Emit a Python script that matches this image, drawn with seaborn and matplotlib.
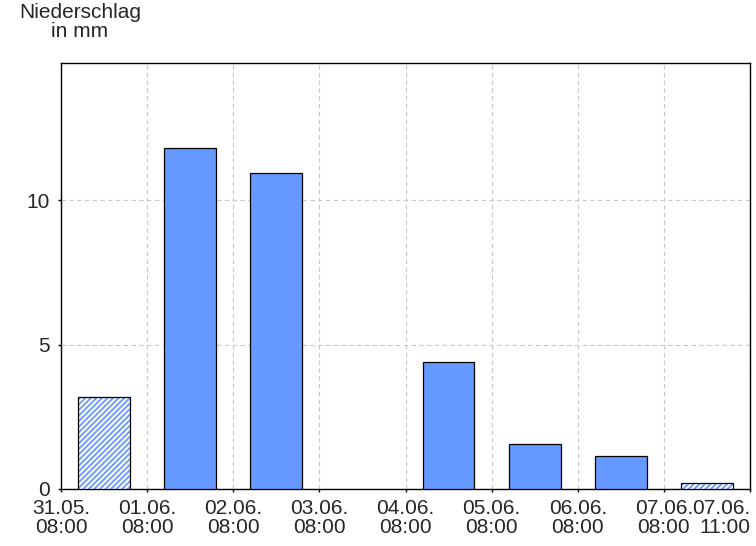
import numpy as np
import pandas as pd
import matplotlib
matplotlib.use('Agg')
import matplotlib.pyplot as plt
from matplotlib.patches import Rectangle
import seaborn as sns

# Tagesniederschlag (jeweils 08:00 bis 08:00), erster und letzter Wert unvollstaendig
periods = ['31.05.', '01.06.', '02.06.', '03.06.', '04.06.', '05.06.', '06.06.', '07.06.']
values = [3.2, 11.8, 10.95, 0.0, 4.4, 1.55, 1.15, 0.2]
partial = [True, False, False, False, False, False, False, True]
tick_labels = ['31.05.\n08:00', '01.06.\n08:00', '02.06.\n08:00', '03.06.\n08:00',
               '04.06.\n08:00', '05.06.\n08:00', '06.06.\n08:00', '07.06.\n08:00',
               '07.06.\n11:00']

bar_color = '#6699ff'

sns.set_style('white')
plt.rcParams['font.family'] = ['Liberation Sans', 'DejaVu Sans']
plt.rcParams['hatch.linewidth'] = 1.3

df = pd.DataFrame({'pos': np.arange(len(periods)) + 0.5, 'mm': values})

fig = plt.figure(figsize=(7.56, 5.46), dpi=100)
ax = fig.add_axes([61 / 756, 1 - 489 / 546, 689 / 756, 426 / 546])

sns.barplot(data=df, x='pos', y='mm', native_scale=True, width=0.6,
            color=bar_color, saturation=1, edgecolor='black', linewidth=0.9,
            ax=ax, zorder=3)

for patch, v, is_part in zip(ax.patches, values, partial):
    if v == 0:
        patch.set_linewidth(0)
    # unvollstaendige Zeitraeume schraffiert
    if is_part:
        patch.set_facecolor('white')
        patch.set_edgecolor(bar_color)
        patch.set_hatch('//////')
        patch.set_linewidth(0)
        ax.add_patch(Rectangle(patch.get_xy(), patch.get_width(), patch.get_height(),
                               fill=False, edgecolor='black', linewidth=0.9, zorder=4))

ax.set_xlim(0, 8)
ax.set_ylim(0, 14.75)
ax.set_xticks(np.arange(len(tick_labels)))
labels = ax.set_xticklabels(tick_labels, fontsize=15, linespacing=1.0)
labels[-1].set_ha('right')
ax.set_yticks([0, 5, 10])
ax.set_yticklabels(['0', '5', '10'], fontsize=15)
ax.set_xlabel('')
ax.set_ylabel('')

ax.tick_params(axis='both', direction='out', length=2.5, width=1, color='black',
               bottom=True, left=True)
ax.tick_params(axis='x', pad=5)
ax.tick_params(axis='y', pad=5.5)

ax.grid(True, color='#c8c8c8', linestyle=(0, (4, 3)), linewidth=0.8, zorder=0)
ax.set_axisbelow(True)
for s in ax.spines.values():
    s.set_color('black')
    s.set_linewidth(1.0)

fig.text(80 / 756, 1 - 3 / 546, 'Niederschlag\nin mm', ha='center', va='top',
         fontsize=15, linespacing=1.0)

fig.savefig('out.png', dpi=100, facecolor='white')
